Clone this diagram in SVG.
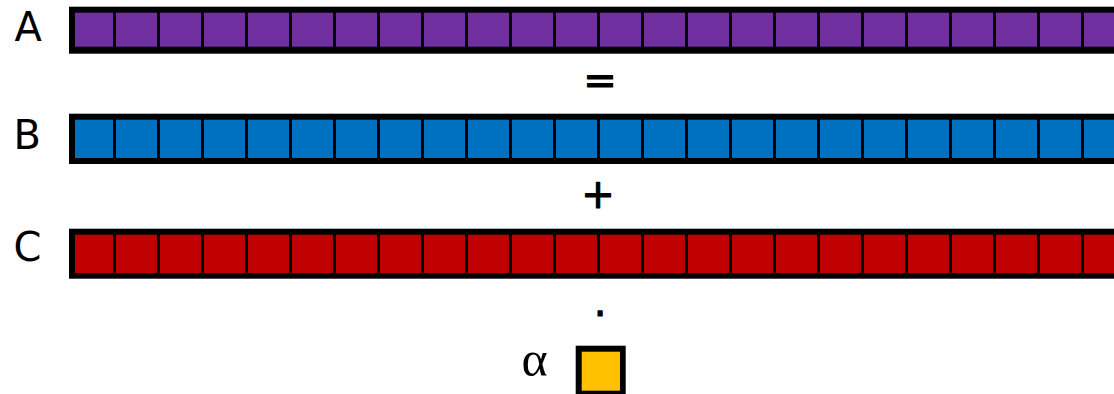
<svg xmlns="http://www.w3.org/2000/svg" width="1114" height="394" viewBox="0 0 1114 394">
<style>
.bg{fill:#FFFFFF}
.frame{fill:#000000}
.a{fill:#7030A0}
.b{fill:#0070C0}
.c{fill:#C00000}
.y{fill:#FFC000}
.lbl{font-family:"DejaVu Sans","Liberation Sans",sans-serif;font-size:40px;fill:#000000}
.op{font-family:"DejaVu Sans","Liberation Sans",sans-serif;font-size:40px;fill:#000000;text-anchor:middle;stroke:#000000;stroke-width:1.1;stroke-linejoin:round}
.greek{font-family:"Liberation Serif","DejaVu Serif",serif;font-size:50px;fill:#000000;text-anchor:middle}
</style>
<defs>
<g id="cells">
<rect x="75" y="0" width="38" height="1"/>
<rect x="116" y="0" width="41" height="1"/>
<rect x="160" y="0" width="41" height="1"/>
<rect x="204" y="0" width="41" height="1"/>
<rect x="248" y="0" width="41" height="1"/>
<rect x="292" y="0" width="41" height="1"/>
<rect x="336" y="0" width="41" height="1"/>
<rect x="380" y="0" width="41" height="1"/>
<rect x="424" y="0" width="41" height="1"/>
<rect x="468" y="0" width="41" height="1"/>
<rect x="512" y="0" width="41" height="1"/>
<rect x="556" y="0" width="41" height="1"/>
<rect x="600" y="0" width="41" height="1"/>
<rect x="644" y="0" width="41" height="1"/>
<rect x="688" y="0" width="41" height="1"/>
<rect x="732" y="0" width="41" height="1"/>
<rect x="776" y="0" width="41" height="1"/>
<rect x="820" y="0" width="41" height="1"/>
<rect x="864" y="0" width="41" height="1"/>
<rect x="908" y="0" width="41" height="1"/>
<rect x="952" y="0" width="41" height="1"/>
<rect x="996" y="0" width="41" height="1"/>
<rect x="1040" y="0" width="41" height="1"/>
<rect x="1084" y="0" width="41" height="1"/>
</g>
</defs>
<rect class="bg" x="0" y="0" width="1114" height="394"/>
<g id="vector-A">
<rect class="frame" x="69" y="6.7" width="1060" height="47"/>
<use href="#cells" class="a" transform="translate(0,12.7) scale(1,34)"/>
<text class="lbl" x="14.4" y="40.7">A</text>
</g>
<g id="vector-B">
<rect class="frame" x="69" y="113.7" width="1060" height="50.3"/>
<use href="#cells" class="b" transform="translate(0,119.7) scale(1,38.3)"/>
<text class="lbl" x="13.4" y="149">B</text>
</g>
<g id="vector-C">
<rect class="frame" x="69" y="228.7" width="1060" height="50"/>
<use href="#cells" class="c" transform="translate(0,234.7) scale(1,38.3)"/>
<text class="lbl" x="13.5" y="261">C</text>
</g>
<g id="scalar-alpha">
<rect class="frame" x="575.7" y="345.7" width="50" height="52"/>
<rect class="y" x="581.7" y="351.7" width="38.3" height="39"/>
<text class="greek" x="534.5" y="376">α</text>
</g>
<g id="operators">
<text class="op" x="600" y="94">=</text>
<text class="op" x="598" y="208">+</text>
<text class="op" x="600" y="316">.</text>
</g>
<g id="connectors"/>
</svg>
